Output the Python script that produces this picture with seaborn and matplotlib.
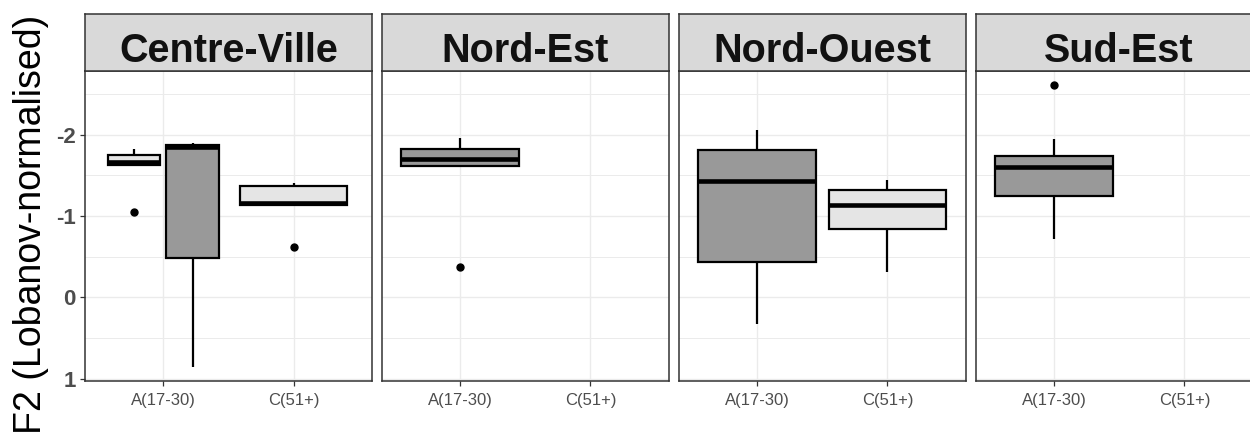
import matplotlib
matplotlib.use("Agg")
import matplotlib.pyplot as plt
import pandas as pd
import seaborn as sns
from matplotlib.ticker import FixedLocator, NullLocator

plt.rcParams['font.family'] = ['Liberation Sans', 'DejaVu Sans']

regions = ["Centre-Ville", "Nord-Est", "Nord-Ouest", "Sud-Est"]
age_groups = ["A(17-30)", "C(51+)"]
fill_groups = ["clair", "fonce"]
fill_colors = {"clair": "#E5E5E5", "fonce": "#999999"}
y_major = [-2, -1, 0, 1]
y_minor = [-2.5, -1.5, -0.5, 0.5]
y_label = "F2 (Lobanov-normalised)"

cv_a_clair = [-1.82, -1.78, -1.75, -1.70, -1.67, -1.65, -1.63, -1.63, -1.05]
cv_a_fonce = [-1.90, -1.87, -1.85, -0.48, 0.85]
cv_c_clair = [-1.41, -1.39, -1.37, -1.25, -1.16, -1.14, -1.135, -1.135, -0.62]
ne_a_fonce = [-1.96, -1.88, -1.82, -1.75, -1.70, -1.66, -1.62, -1.62, -0.38]
no_a_fonce = [-2.055, -1.81, -1.43, -0.43, 0.325]
no_c_clair = [-1.44, -1.32, -1.135, -0.84, -0.31]
se_a_fonce = [-2.61, -1.945, -1.74, -1.68, -1.605, -1.40, -1.245, -0.95, -0.72]

groups = [
    ("Centre-Ville", "A(17-30)", "clair", cv_a_clair),
    ("Centre-Ville", "A(17-30)", "fonce", cv_a_fonce),
    ("Centre-Ville", "C(51+)", "clair", cv_c_clair),
    ("Nord-Est", "A(17-30)", "fonce", ne_a_fonce),
    ("Nord-Ouest", "A(17-30)", "fonce", no_a_fonce),
    ("Nord-Ouest", "C(51+)", "clair", no_c_clair),
    ("Sud-Est", "A(17-30)", "fonce", se_a_fonce),
]
rows = []
for reg, age, fill, vals in groups:
    for v in vals:
        rows.append({"region": reg, "age": age, "fill": fill, "F2": v})
df = pd.DataFrame(rows)

W, H = 1250, 432
fig = plt.figure(figsize=(W / 100, H / 100), dpi=100)
panel_left = [85, 381.7, 678.7, 975.7]
panel_w = 287
panel_top, panel_bot = 71, 380.7
strip_top = 14
border = "#333333"
grid_c = "#EBEBEB"

common = dict(
    x="age", y="F2", hue="fill", order=age_groups, hue_order=fill_groups,
    palette=fill_colors, saturation=1, linecolor="black", linewidth=1.6,
    whis=1.5, legend=False,
    medianprops=dict(linewidth=3.3, color="black", solid_capstyle="butt"),
    whiskerprops=dict(linewidth=1.6, color="black"),
    capprops=dict(linewidth=0, color="none"),
    flierprops=dict(marker="o", markerfacecolor="black", markeredgecolor="black",
                    markersize=5),
)

for i, reg in enumerate(regions):
    l = panel_left[i] / W
    ax = fig.add_axes([l, 1 - panel_bot / H, panel_w / W, (panel_bot - panel_top) / H])
    sax = fig.add_axes([l, 1 - panel_top / H, panel_w / W, (panel_top - strip_top) / H])
    sub = df[df["region"] == reg]
    if reg == "Centre-Ville":
        sns.boxplot(data=sub[sub["age"] == age_groups[0]], dodge=True, width=0.9, gap=0.1,
                    ax=ax, **common)
        sns.boxplot(data=sub[sub["age"] == age_groups[1]], dodge=False, width=0.82,
                    ax=ax, **common)
    else:
        sns.boxplot(data=sub, dodge=False, width=0.9, ax=ax, **common)

    ax.set_xlim(-0.6, 1.6)
    ax.set_ylim(1.023, -2.783)
    ax.set_xlabel("")
    ax.set_ylabel("")
    ax.set_facecolor("white")
    ax.set_xticks([0, 1])
    ax.set_xticklabels(age_groups)
    ax.xaxis.set_minor_locator(NullLocator())
    ax.yaxis.set_major_locator(FixedLocator(y_major))
    ax.yaxis.set_minor_locator(FixedLocator(y_minor))
    ax.set_yticklabels([str(v) for v in y_major])
    ax.set_axisbelow(True)
    ax.grid(which="major", color=grid_c, linewidth=1.0)
    ax.grid(which="minor", axis="y", color=grid_c, linewidth=0.7)
    ax.tick_params(axis="x", which="major", length=3.6, width=0.9, color=border,
                   labelsize=12, labelcolor="#4D4D4D", pad=5.5)
    ax.tick_params(axis="y", which="major", length=3.6, width=0.9, color=border,
                   labelsize=16, labelcolor="#4D4D4D", pad=3)
    ax.tick_params(axis="y", which="minor", length=0)
    for t in ax.get_yticklabels():
        t.set_fontweight("bold")
    if i > 0:
        ax.tick_params(axis="y", which="both", left=False, labelleft=False)
    for s in ax.spines.values():
        s.set_color(border)
        s.set_linewidth(1.1)

    sax.set_facecolor("#D9D9D9")
    sax.set_xticks([])
    sax.set_yticks([])
    for s in sax.spines.values():
        s.set_color(border)
        s.set_linewidth(1.1)
    sax.text(0.5, 0.16, reg, ha="center", va="baseline", fontsize=28.5,
             fontweight="bold", color="#111111", transform=sax.transAxes)

fig.text(31 / W, 1 - 224 / H, y_label, rotation=90, ha="center", va="center",
         fontsize=27, color="black")

fig.savefig("out.png", dpi=100)
